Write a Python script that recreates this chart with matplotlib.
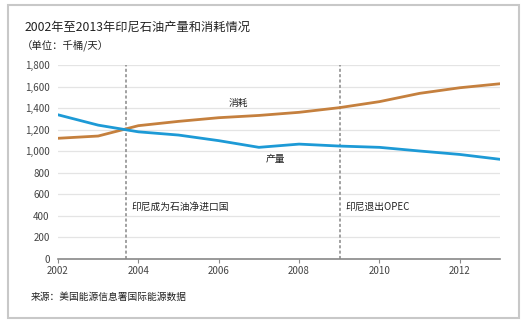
import matplotlib
matplotlib.use("Agg")
import matplotlib.pyplot as plt
from matplotlib.patches import Rectangle
from matplotlib.ticker import FuncFormatter

plt.rcParams['font.family'] = ['Noto Sans CJK SC', 'DejaVu Sans']

# 数据 (千桶/天)
years = [2002, 2003, 2004, 2005, 2006, 2007, 2008, 2009, 2010, 2011, 2012, 2013]
production = [1338, 1242, 1180, 1150, 1098, 1036, 1066, 1048, 1036, 1002, 970, 925]
consumption = [1120, 1141, 1237, 1277, 1311, 1332, 1361, 1404, 1460, 1537, 1589, 1626]
events = [2003.69, 2009.01]
event_labels = ['印尼成为石油净进口国', '印尼退出OPEC']
xticks = [2002, 2004, 2006, 2008, 2010, 2012]
yticks = list(range(0, 1801, 200))

fig = plt.figure(figsize=(5.27, 3.26), dpi=100)
fig.patch.set_facecolor('white')
fig.patches.append(Rectangle((8 / 527, 1 - 318 / 326), 511 / 527, 313 / 326,
                             transform=fig.transFigure, fill=False,
                             edgecolor='#c8c8c8', linewidth=1.5))

ax = fig.add_axes([58 / 527, 1 - 259 / 326, 442 / 527, 194 / 326])
for y in yticks[1:]:
    ax.axhline(y, color='#e4e4e4', linewidth=0.9, zorder=0)

ax.plot(years, consumption, color='#c5803e', linewidth=2, zorder=3)
ax.plot(years, production, color='#1d9ad6', linewidth=2, zorder=3)

for x, lab in zip(events, event_labels):
    ax.axvline(x, color='#888888', linestyle=(0, (2, 1.5)), linewidth=1.1, zorder=2)
    ax.text(x + 0.14, 480, lab, fontsize=7, color='#222222', va='center', ha='left')

ax.text(2006.48, 1450, '消耗', fontsize=7, color='#222222', ha='center', va='center')
ax.text(2007.4, 928, '产量', fontsize=7, color='#222222', ha='center', va='center')

ax.set_xlim(2002, 2013)
ax.set_ylim(0, 1800)
ax.set_xticks(xticks)
ax.set_yticks(yticks)
ax.yaxis.set_major_formatter(FuncFormatter(lambda v, p: f'{int(v):,}'))
for s in ['top', 'right', 'left']:
    ax.spines[s].set_visible(False)
ax.spines['bottom'].set_color('#888888')
ax.spines['bottom'].set_linewidth(1.2)
ax.tick_params(axis='y', length=0, labelsize=7, labelcolor='#444444', pad=6)
ax.tick_params(axis='x', length=3, color='#888888', labelsize=7, labelcolor='#444444', pad=2)

fig.text(25 / 527, 1 - 27 / 326, '2002年至2013年印尼石油产量和消耗情况',
         fontsize=8.8, color='#222222', va='center', ha='left')
fig.text(22 / 527, 1 - 45 / 326, '（单位：千桶/天）',
         fontsize=7.5, color='#222222', va='center', ha='left')
fig.text(31 / 527, 1 - 297 / 326, '来源：美国能源信息署国际能源数据',
         fontsize=7, color='#222222', va='center', ha='left')

fig.savefig('out.png', dpi=100)
